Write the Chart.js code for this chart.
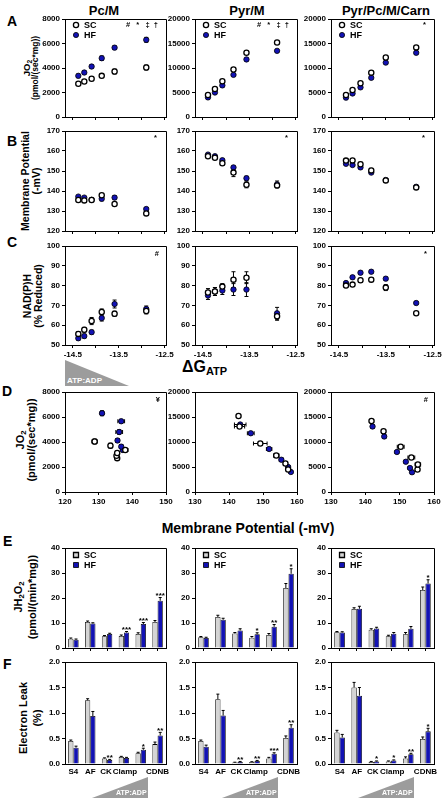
<!DOCTYPE html>
<html>
<head>
<meta charset="utf-8">
<script src="https://cdn.jsdelivr.net/npm/chart.js@4.4.1/dist/chart.umd.min.js"></script>
<style>
body { margin: 0; background: #fff; }
#fig { position: relative; width: 447px; height: 802px; overflow: hidden;
       font-family: "Liberation Sans", Arial, sans-serif; font-weight: bold; color: #000; }
#fig canvas { position: absolute; }
.t { position: absolute; white-space: nowrap; line-height: 1; }
.c { transform: translate(-50%, -50%); }
.ylab { position: absolute; white-space: nowrap; text-align: center; transform: translate(-50%, -50%) rotate(-90deg); }
.ylab span { display: block; }
.tri { position: absolute; background: #9c9c9c; }
.tri-txt { position: absolute; color: #fff; font-size: 8px; line-height: 1; white-space: nowrap; }
sub { font-size: 70%; vertical-align: -0.25em; line-height: 0; }
</style>
</head>
<body>
<div id="fig">
  <div class="t c" style="left:104px;top:10px;font-size:13px">Pc/M</div>
  <div class="t c" style="left:247px;top:10px;font-size:13px">Pyr/M</div>
  <div class="t c" style="left:386px;top:10px;font-size:13px">Pyr/Pc/M/Carn</div>

  <div class="t" style="left:7px;top:14px;font-size:14px">A</div>
  <div class="t" style="left:7px;top:134px;font-size:14px">B</div>
  <div class="t" style="left:7px;top:235px;font-size:14px">C</div>
  <div class="t" style="left:2px;top:384px;font-size:14px">D</div>
  <div class="t" style="left:3px;top:534px;font-size:14px">E</div>
  <div class="t" style="left:3px;top:657px;font-size:14px">F</div>

  <div class="ylab" style="left:31px;top:68px;line-height:8px"><span style="font-size:9.5px">JO<sub>2</sub></span><span style="font-size:8.5px">(pmol/(sec*mg))</span></div>
  <div class="ylab" style="left:31px;top:181px;line-height:11px"><span style="font-size:10.5px">Membrane Potential</span><span style="font-size:10.5px">(-mV)</span></div>
  <div class="ylab" style="left:32px;top:296px;line-height:10.5px"><span style="font-size:10.5px">NAD(P)H</span><span style="font-size:10.5px">(% Reduced)</span></div>
  <div class="ylab" style="left:26px;top:440px;line-height:11px"><span style="font-size:11px">JO<sub>2</sub></span><span style="font-size:11px">(pmol/(sec*mg))</span></div>
  <div class="ylab" style="left:25px;top:597px;line-height:14px"><span style="font-size:11px">JH<sub>2</sub>O<sub>2</sub></span><span style="font-size:11px">(pmol/(min*mg))</span></div>
  <div class="ylab" style="left:30px;top:718px;line-height:14px"><span style="font-size:11px">Electron Leak</span><span style="font-size:11px">(%)</span></div>

  <div class="t" style="left:182px;top:359px;font-size:16px">ΔG<sub style="font-size:11px;vertical-align:-0.3em">ATP</sub></div>
  <div class="t c" style="left:248px;top:528px;font-size:14px">Membrane Potential (-mV)</div>

  <div class="tri" style="left:65px;top:360px;width:64px;height:26px;clip-path:polygon(0 0,100% 100%,0 100%)"></div>
  <div class="tri-txt" style="left:67px;top:377px">ATP:ADP</div>
</div>

<script>
// ----- data -----
const substrates = ['Pc/M', 'Pyr/M', 'Pyr/Pc/M/Carn'];
const conditions = ['SC', 'HF'];
// "CK Clamp" spans groups 3 and 4, split with padding spaces
const assays = ['S4', 'AF', 'CK ', ' Clamp', '', 'CDNB'];

const dgTicks = [-14.5, -14, -13.5, -13, -12.5];
const dgPc = [-14.38, -14.25, -14.09, -13.87, -13.59, -12.90];
const dgPyr = [-14.39, -14.24, -14.08, -13.84, -13.56, -12.90];
const dgCarn = [-14.35, -14.21, -14.04, -13.81, -13.50, -12.85];

// A: JO2 (pmol/(sec*mg))
const jo2ScPc = [2710, 2900, 3120, 3360, 3710, 4040];
const jo2HfPc = [3360, 3630, 4120, 4800, 5660, 6300];
const jo2ScPyr = [4500, 5700, 7300, 9700, 13100, 15200];
const jo2HfPyr = [4000, 5000, 6450, 8600, 11750, 13500];
const jo2ScCarn = [4500, 5500, 6900, 9050, 12150, 14200];
const jo2HfCarn = [3950, 4800, 6050, 8000, 11100, 13100];
const jo2ErrScPc = [120, 120, 150, 150, 200, 200];
const jo2ErrHfPc = [150, 150, 150, 180, 150, 200];
const jo2ErrScPyr = [250, 250, 300, 300, 300, 300];
const jo2ErrHfPyr = [250, 250, 300, 300, 300, 300];
const jo2ErrScCarn = [250, 250, 300, 300, 300, 300];
const jo2ErrHfCarn = [250, 250, 300, 300, 300, 300];

// B: membrane potential (-mV)
const mpScPc = [135.5, 135.3, 135.5, 137.9, 133.5, 128.8];
const mpHfPc = [137.2, 136.7, 135.6, 136.1, 136.7, 131.0];
const mpScPyr = [157.4, 156.6, 153.9, 149.2, 143.1, 142.8];
const mpHfPyr = [158.2, 157.4, 155.4, 151.8, 146.4, 143.3];
const mpScCarn = [155.2, 155.3, 153.4, 150.3, 145.3, 141.8];
const mpHfCarn = [153.6, 153.0, 151.8, 149.2, 145.5, 142.1];
const mpErrScPc = [0.5, 0.5, 0.5, 0.8, 0.6, 0.8];
const mpErrHfPc = [0.5, 0.5, 0.5, 1.0, 1.0, 0.6];
const mpErrScPyr = [0.5, 0.5, 0.8, 2.0, 1.5, 0.6];
const mpErrHfPyr = [0.5, 0.5, 0.6, 0.8, 1.0, 1.7];
const mpErrScCarn = [0.6, 0.8, 1.0, 1.0, 0.6, 0.6];
const mpErrHfCarn = [0.5, 0.5, 0.5, 0.5, 0.5, 0.5];

// C: NAD(P)H (% reduced)
const nadScPc = [55.6, 57.7, 62.1, 66.7, 65.8, 67.2];
const nadHfPc = [53.4, 54.5, 56.5, 63.6, 70.7, 68.2];
const nadScPyr = [76.5, 77, 79.5, 83, 84, 64.5];
const nadHfPyr = [75, 77, 77.5, 78, 78, 66];
const nadScCarn = [80, 80.5, 82.7, 83, 79, 66];
const nadHfCarn = [81.3, 84.2, 86.5, 87, 83.5, 71.2];
const nadErrScPc = [1.2, 1.2, 1.8, 1.5, 1.3, 1.5];
const nadErrHfPc = [1.0, 1.0, 1.0, 1.5, 2.0, 1.5];
const nadErrScPyr = [2, 2, 1.5, 4, 3, 2];
const nadErrHfPyr = [2, 2, 2, 3, 3.5, 3];
const nadErrScCarn = [1, 1, 1, 1, 1.5, 0.5];
const nadErrHfCarn = [0.8, 0.8, 0.8, 0.8, 0.8, 0.8];

// E: JH2O2 (pmol/(min*mg))
const h2o2ScPc = [3.7, 10.4, 4.7, 4.8, 5.6, 10.4];
const h2o2HfPc = [3.3, 9.8, 5.6, 6.2, 9.6, 18.9];
const h2o2ScPyr = [4.3, 12.4, 5.8, 4.1, 5.2, 24.0];
const h2o2HfPyr = [4.0, 11.3, 7.0, 5.5, 8.5, 29.7];
const h2o2ScCarn = [6.3, 15.6, 7.3, 4.7, 5.5, 23.2];
const h2o2HfCarn = [6.2, 15.7, 7.8, 5.7, 7.7, 25.8];
const h2o2ErrScPc = [0.3, 0.4, 0.3, 0.4, 0.5, 0.6];
const h2o2ErrHfPc = [0.3, 0.3, 0.3, 0.4, 0.6, 1.3];
const h2o2ErrScPyr = [0.3, 0.7, 0.4, 0.5, 0.6, 1.8];
const h2o2ErrHfPyr = [0.3, 0.6, 0.7, 0.6, 0.9, 2.0];
const h2o2ErrScCarn = [0.3, 0.5, 0.4, 0.4, 0.7, 1.2];
const h2o2ErrHfCarn = [0.3, 1.0, 0.5, 0.5, 0.9, 1.5];
const h2o2StarsPc = ['', '', '', '***', '***', '***'];
const h2o2StarsPyr = ['', '', '', '*', '**', '*'];
const h2o2StarsCarn = ['', '', '', '', '', '*'];

// F: electron leak (%)
const leakScPc = [0.45, 1.25, 0.11, 0.14, 0.21, 0.39];
const leakHfPc = [0.32, 0.94, 0.08, 0.12, 0.28, 0.56];
const leakScPyr = [0.45, 1.27, 0.03, 0.04, 0.11, 0.51];
const leakHfPyr = [0.34, 0.95, 0.04, 0.06, 0.20, 0.71];
const leakScCarn = [0.62, 1.50, 0.04, 0.05, 0.11, 0.49];
const leakHfCarn = [0.52, 1.34, 0.05, 0.07, 0.19, 0.64];
const leakErrScPc = [0.02, 0.03, 0.01, 0.01, 0.02, 0.04];
const leakErrHfPc = [0.03, 0.09, 0.01, 0.01, 0.03, 0.06];
const leakErrScPyr = [0.02, 0.10, 0.005, 0.005, 0.02, 0.04];
const leakErrHfPyr = [0.03, 0.10, 0.01, 0.01, 0.02, 0.06];
const leakErrScCarn = [0.04, 0.10, 0.01, 0.01, 0.03, 0.04];
const leakErrHfCarn = [0.06, 0.16, 0.01, 0.01, 0.02, 0.06];
const leakStarsPc = ['', '', '**', '', '*', '**'];
const leakStarsPyr = ['', '', '**', '**', '***', '**'];
const leakStarsCarn = ['', '', '*', '*', '**', '*'];

// ----- layout -----
const FONT = '"Liberation Sans", Arial, sans-serif';
const HF_BLUE = '#1212b4';
const SC_GRAY = '#d4d4d4';
const COLS = [[65, 166], [195, 297], [331, 434]];
const ROWS = { A: [19, 117], B: [131, 231], C: [246, 345], D: [392, 492], E: [548, 648], F: [662, 764] };
const YW = 40, PT = 8, PR = 14, XH = 18;
const fig = document.getElementById('fig');

Chart.defaults.font.family = FONT;
Chart.defaults.font.weight = 'bold';
Chart.defaults.font.size = 8;
Chart.defaults.color = '#000';
Chart.defaults.animation = false;

// box around the plot area
const framePlugin = {
    id: 'frame',
    beforeDatasetsDraw(chart) {
        const a = chart.chartArea, ctx = chart.ctx;
        ctx.save();
        ctx.strokeStyle = '#000';
        ctx.lineWidth = 1;
        ctx.beginPath();
        ctx.moveTo(a.left, Math.round(a.top) + 0.5);
        ctx.lineTo(Math.round(a.right) + 0.5, Math.round(a.top) + 0.5);
        ctx.lineTo(Math.round(a.right) + 0.5, a.bottom);
        ctx.stroke();
        ctx.restore();
    }
};

// error bars (errY / errX arrays on datasets)
const errorPlugin = {
    id: 'errbars',
    beforeDatasetsDraw(chart) {
        const ctx = chart.ctx, xs = chart.scales.x, ys = chart.scales.y;
        const isBar = chart.config.type === 'bar';
        ctx.save();
        ctx.strokeStyle = '#000';
        ctx.lineWidth = 1;
        chart.data.datasets.forEach((ds, di) => {
            const meta = chart.getDatasetMeta(di);
            meta.data.forEach((el, i) => {
                const yv = isBar ? ds.data[i] : ds.data[i].y;
                const xv = isBar ? null : ds.data[i].x;
                if (ds.errY && ds.errY[i]) {
                    const top = ys.getPixelForValue(yv + ds.errY[i]);
                    const bot = isBar ? el.y : ys.getPixelForValue(yv - ds.errY[i]);
                    const cw = isBar ? 1.5 : 2;
                    ctx.beginPath();
                    ctx.moveTo(el.x, top); ctx.lineTo(el.x, bot);
                    ctx.moveTo(el.x - cw, top); ctx.lineTo(el.x + cw, top);
                    if (!isBar) { ctx.moveTo(el.x - cw, bot); ctx.lineTo(el.x + cw, bot); }
                    ctx.stroke();
                }
                if (ds.errX && ds.errX[i]) {
                    const l = xs.getPixelForValue(xv - ds.errX[i]);
                    const r = xs.getPixelForValue(xv + ds.errX[i]);
                    ctx.beginPath();
                    ctx.moveTo(l, el.y); ctx.lineTo(r, el.y);
                    ctx.moveTo(l, el.y - 2); ctx.lineTo(l, el.y + 2);
                    ctx.moveTo(r, el.y - 2); ctx.lineTo(r, el.y + 2);
                    ctx.stroke();
                }
            });
        });
        ctx.restore();
    }
};

// significance marks above the HF bars
const starsPlugin = {
    id: 'stars',
    afterDatasetsDraw(chart, args, opts) {
        if (!opts.labels) return;
        const ctx = chart.ctx, ys = chart.scales.y;
        const ds = chart.data.datasets[1], meta = chart.getDatasetMeta(1);
        ctx.save();
        ctx.font = 'bold 8px ' + FONT;
        ctx.fillStyle = '#000';
        ctx.textAlign = 'center';
        ctx.textBaseline = 'alphabetic';
        opts.labels.forEach((s, i) => {
            if (!s) return;
            const y = ys.getPixelForValue(ds.data[i] + (ds.errY ? ds.errY[i] : 0));
            ctx.fillText(s, meta.data[i].x, y + 0.5);
        });
        ctx.restore();
    }
};

// corner symbols (#, *, ‡, †, ¥)
const cornerPlugin = {
    id: 'corner',
    afterDatasetsDraw(chart, args, opts) {
        if (!opts.text) return;
        const a = chart.chartArea, ctx = chart.ctx;
        ctx.save();
        ctx.font = 'bold 7.5px ' + FONT;
        ctx.fillStyle = '#000';
        ctx.textAlign = 'right';
        ctx.textBaseline = 'middle';
        ctx.fillText(opts.text, a.right - (opts.dx || 7), a.top + (opts.dy || 7));
        ctx.restore();
    }
};

// small legend inside the plot area
const legendPlugin = {
    id: 'lgd',
    afterDatasetsDraw(chart, args, opts) {
        if (!opts.shape) return;
        const a = chart.chartArea, ctx = chart.ctx;
        ctx.save();
        ctx.font = 'bold 9px ' + FONT;
        ctx.textBaseline = 'middle';
        chart.data.datasets.forEach((ds, i) => {
            const x = a.left + 11, y = a.top + opts.my + i * 10;
            ctx.beginPath();
            if (opts.shape === 'circle') ctx.arc(x, y, 2.6, 0, Math.PI * 2);
            else ctx.rect(x - 2.5, y - 2.5, 5, 5);
            ctx.fillStyle = opts.fills[i];
            ctx.fill();
            ctx.lineWidth = i === 0 ? 1.3 : 0.8;
            ctx.strokeStyle = '#000';
            ctx.stroke();
            ctx.fillStyle = '#000';
            ctx.fillText(ds.label, a.left + 19, y + 0.5);
        });
        ctx.restore();
    }
};

Chart.register(framePlugin, errorPlugin, starsPlugin, cornerPlugin, legendPlugin);

function yAxis(min, max, step, fmt) {
    return {
        type: 'linear', min, max,
        ticks: { stepSize: step, padding: 2, callback: fmt || (v => String(v)) },
        grid: { drawOnChartArea: false, tickLength: 3, color: '#000' },
        border: { color: '#000', width: 1 },
        afterFit: s => { s.width = YW; }
    };
}

function dgAxis(showLabels) {
    return {
        type: 'linear', min: -14.67, max: -12.47,
        afterBuildTicks: s => { s.ticks = dgTicks.map(v => ({ value: v })); },
        ticks: {
            autoSkip: false, maxRotation: 0, padding: 2,
            callback: v => (showLabels && Number.isInteger(v + 0.5)) ? v.toFixed(1) : ''
        },
        grid: { drawOnChartArea: false, tickLength: 3, color: '#000' },
        border: { color: '#000', width: 1 },
        afterFit: s => { s.height = XH; }
    };
}

function mpAxis(min, max) {
    return {
        type: 'linear', min, max,
        ticks: { stepSize: 10, padding: 2, autoSkip: false, maxRotation: 0 },
        grid: { drawOnChartArea: false, tickLength: 3, color: '#000' },
        border: { color: '#000', width: 1 },
        afterFit: s => { s.height = XH; }
    };
}

function catAxis(showLabels) {
    return {
        type: 'category', offset: true,
        grid: { offset: false, drawOnChartArea: false, drawTicks: !showLabels, tickLength: 3, color: '#000' },
        border: { color: '#000', width: 1 },
        ticks: { display: showLabels, autoSkip: false, maxRotation: 0, minRotation: 0, padding: 3 },
        afterFit: s => { s.height = XH; }
    };
}

function panel(row, col, config) {
    const [l, r] = COLS[col], [t, b] = ROWS[row];
    const c = document.createElement('canvas');
    const w = r - l + YW + PR, h = b - t + PT + XH;
    c.width = w; c.height = h;
    c.style.width = w + 'px'; c.style.height = h + 'px';
    c.style.left = (l - YW) + 'px';
    c.style.top = (t - PT) + 'px';
    fig.appendChild(c);
    config.options.responsive = false;
    config.options.devicePixelRatio = 1;
    config.options.layout = { padding: { top: PT, right: PR, left: 0, bottom: 0 } };
    config.options.plugins = Object.assign({ legend: { display: false }, tooltip: { enabled: false } }, config.options.plugins);
    return new Chart(c, config);
}

function pts(xs, ys) { return xs.map((x, i) => ({ x, y: ys[i] })); }

function scatter(row, col, sc, hf, xAxis, yAx, plugins) {
    return panel(row, col, {
        type: 'scatter',
        data: {
            datasets: [
                { label: conditions[0], data: sc.data, errY: sc.ey, errX: sc.ex,
                  pointRadius: 2.6, pointBackgroundColor: '#fff', pointBorderColor: '#000', pointBorderWidth: 1.3 },
                { label: conditions[1], data: hf.data, errY: hf.ey, errX: hf.ex,
                  pointRadius: 2.7, pointBackgroundColor: HF_BLUE, pointBorderColor: '#000', pointBorderWidth: 0.8 }
            ]
        },
        options: { scales: { x: xAxis, y: yAx }, plugins: plugins || {} }
    });
}

function bars(row, col, sc, hf, scErr, hfErr, stars, yAx, plugins) {
    return panel(row, col, {
        type: 'bar',
        data: {
            labels: assays,
            datasets: [
                { label: conditions[0], data: sc, errY: scErr, backgroundColor: SC_GRAY, borderColor: '#000',
                  borderWidth: 0.8, barPercentage: 1.0, categoryPercentage: 0.62 },
                { label: conditions[1], data: hf, errY: hfErr, backgroundColor: HF_BLUE, borderColor: '#000',
                  borderWidth: 0.8, barPercentage: 1.0, categoryPercentage: 0.62 }
            ]
        },
        options: {
            scales: { x: catAxis(row === 'F'), y: yAx },
            plugins: Object.assign({ stars: { labels: stars } }, plugins || {})
        }
    });
}

const dgs = [dgPc, dgPyr, dgCarn];
const jo2Sc = [jo2ScPc, jo2ScPyr, jo2ScCarn], jo2Hf = [jo2HfPc, jo2HfPyr, jo2HfCarn];
const jo2ErrSc = [jo2ErrScPc, jo2ErrScPyr, jo2ErrScCarn], jo2ErrHf = [jo2ErrHfPc, jo2ErrHfPyr, jo2ErrHfCarn];
const mpSc = [mpScPc, mpScPyr, mpScCarn], mpHf = [mpHfPc, mpHfPyr, mpHfCarn];
const mpErrSc = [mpErrScPc, mpErrScPyr, mpErrScCarn], mpErrHf = [mpErrHfPc, mpErrHfPyr, mpErrHfCarn];
const nadSc = [nadScPc, nadScPyr, nadScCarn], nadHf = [nadHfPc, nadHfPyr, nadHfCarn];
const nadErrSc = [nadErrScPc, nadErrScPyr, nadErrScCarn], nadErrHf = [nadErrHfPc, nadErrHfPyr, nadErrHfCarn];
const h2o2Sc = [h2o2ScPc, h2o2ScPyr, h2o2ScCarn], h2o2Hf = [h2o2HfPc, h2o2HfPyr, h2o2HfCarn];
const h2o2ErrSc = [h2o2ErrScPc, h2o2ErrScPyr, h2o2ErrScCarn], h2o2ErrHf = [h2o2ErrHfPc, h2o2ErrHfPyr, h2o2ErrHfCarn];
const h2o2Stars = [h2o2StarsPc, h2o2StarsPyr, h2o2StarsCarn];
const leakSc = [leakScPc, leakScPyr, leakScCarn], leakHf = [leakHfPc, leakHfPyr, leakHfCarn];
const leakErrSc = [leakErrScPc, leakErrScPyr, leakErrScCarn], leakErrHf = [leakErrHfPc, leakErrHfPyr, leakErrHfCarn];
const leakStars = [leakStarsPc, leakStarsPyr, leakStarsCarn];

const cornerA = ['#   *   ‡  †', '#   *   ‡  †', '*'];
const cornerC = ['#', '', '*'];
const cornerD = ['¥', '', '#'];
const jo2Max = [8000, 20000, 20000], jo2Step = [2000, 5000, 5000];
const mpMin = [120, 130, 130], mpMax = [150, 160, 160];

substrates.forEach((name, k) => {
    // A: JO2 vs dG
    scatter('A', k,
        { data: pts(dgs[k], jo2Sc[k]), ey: jo2ErrSc[k] },
        { data: pts(dgs[k], jo2Hf[k]), ey: jo2ErrHf[k] },
        dgAxis(false), yAxis(0, jo2Max[k], jo2Step[k]),
        { corner: { text: cornerA[k], dx: 8, dy: 6 }, lgd: { shape: 'circle', my: 6, fills: ['#fff', HF_BLUE] } });
    // B: membrane potential vs dG
    scatter('B', k,
        { data: pts(dgs[k], mpSc[k]), ey: mpErrSc[k] },
        { data: pts(dgs[k], mpHf[k]), ey: mpErrHf[k] },
        dgAxis(false), yAxis(120, 170, 10),
        { corner: { text: '*', dx: 9, dy: 7 } });
    // C: NAD(P)H vs dG
    scatter('C', k,
        { data: pts(dgs[k], nadSc[k]), ey: nadErrSc[k] },
        { data: pts(dgs[k], nadHf[k]), ey: nadErrHf[k] },
        dgAxis(true), yAxis(50, 100, 10),
        { corner: { text: cornerC[k], dx: 7, dy: 8 } });
    // D: JO2 vs membrane potential
    scatter('D', k,
        { data: pts(mpSc[k], jo2Sc[k]), ey: jo2ErrSc[k], ex: mpErrSc[k] },
        { data: pts(mpHf[k], jo2Hf[k]), ey: jo2ErrHf[k], ex: mpErrHf[k] },
        mpAxis(mpMin[k], mpMax[k]), yAxis(0, jo2Max[k], jo2Step[k]),
        { corner: { text: cornerD[k], dx: 6, dy: 8 } });
    // E: H2O2 emission
    bars('E', k, h2o2Sc[k], h2o2Hf[k], h2o2ErrSc[k], h2o2ErrHf[k], h2o2Stars[k],
        yAxis(0, 40, 10), { lgd: { shape: 'rect', my: 7, fills: [SC_GRAY, HF_BLUE] } });
    // F: electron leak
    bars('F', k, leakSc[k], leakHf[k], leakErrSc[k], leakErrHf[k], leakStars[k],
        yAxis(0, 2, 0.5, v => v.toFixed(1)));
});

// ATP:ADP wedges under the F panels
[92, 222, 358].forEach(x => {
    const tri = document.createElement('div');
    tri.className = 'tri';
    tri.style.cssText = `left:${x}px;top:777px;width:56px;height:21px;clip-path:polygon(0 100%,100% 0,100% 100%)`;
    fig.appendChild(tri);
    const tx = document.createElement('div');
    tx.className = 'tri-txt';
    tx.style.cssText = `left:${x + 24}px;top:789px;font-size:7px`;
    tx.textContent = 'ATP:ADP';
    fig.appendChild(tx);
});
</script>
</body>
</html>
